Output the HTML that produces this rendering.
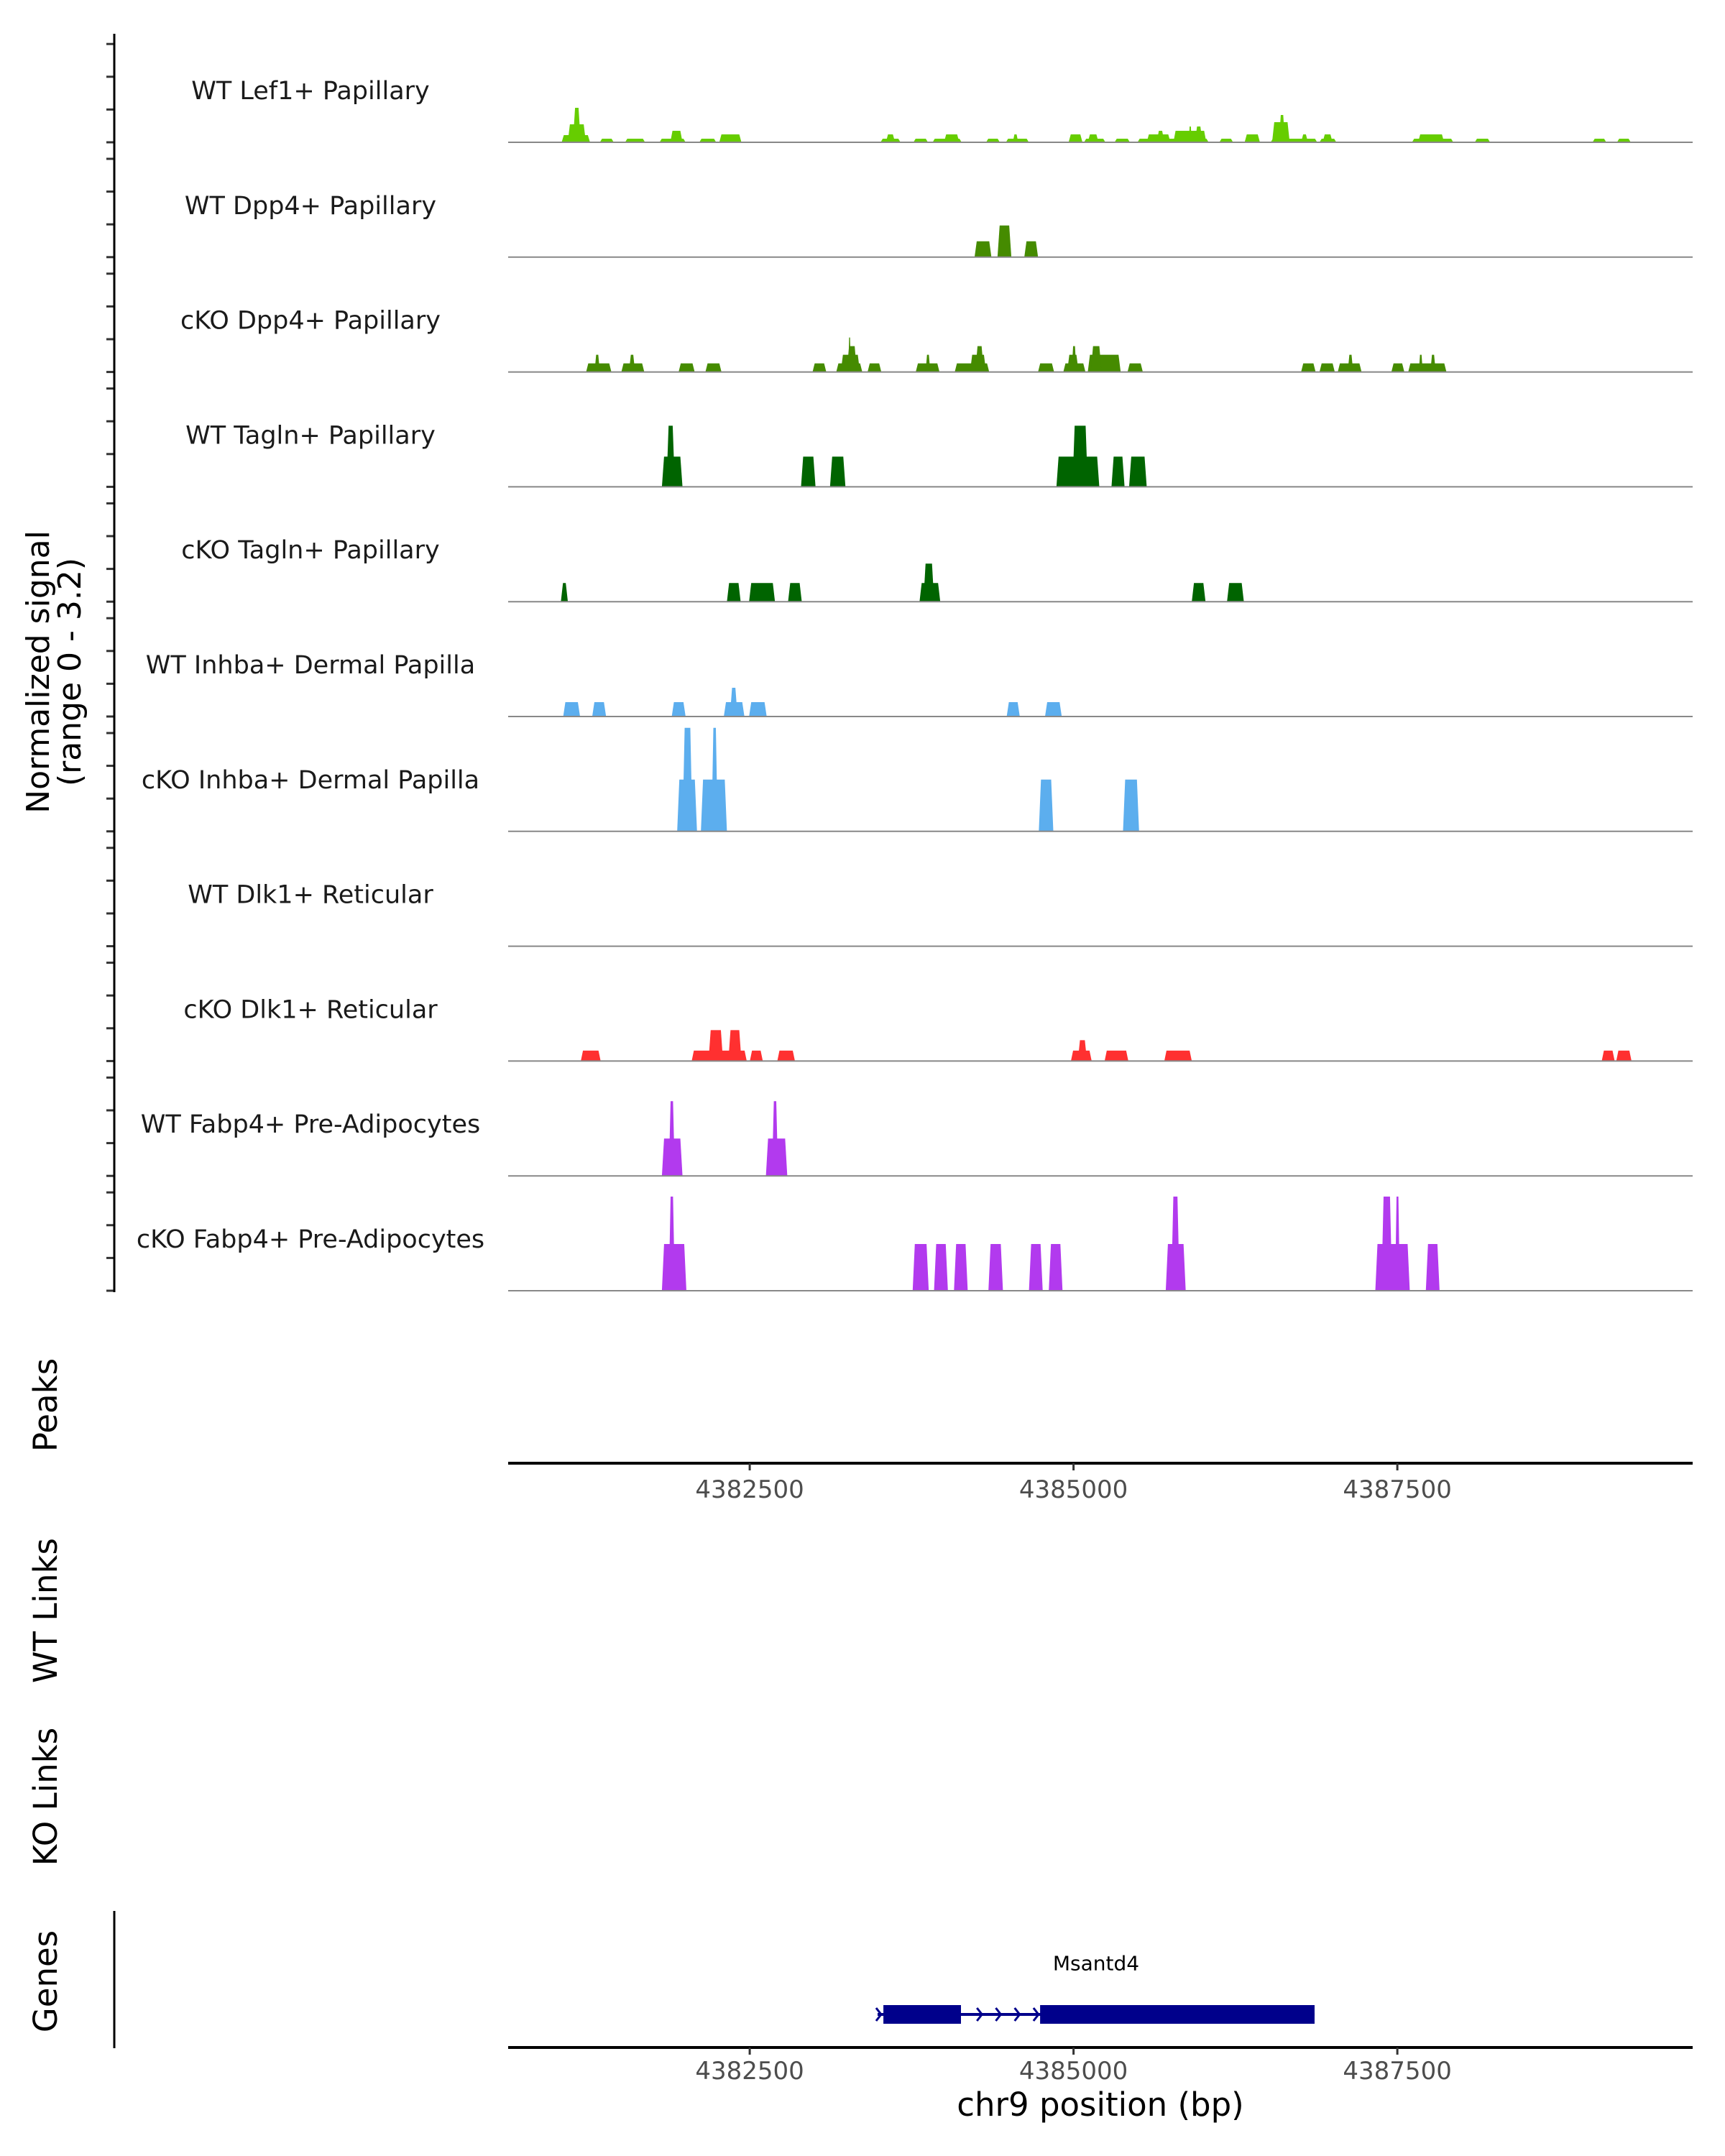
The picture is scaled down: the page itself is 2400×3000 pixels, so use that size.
<!DOCTYPE html>
<html><head><meta charset="utf-8"><style>
html,body{margin:0;padding:0;background:#fff;}
svg{display:block;font-family:"DejaVu Sans","Liberation Sans",sans-serif;}
</style></head><body>
<svg id="chart" width="2400" height="3000" viewBox="0 0 2400 3000" xmlns="http://www.w3.org/2000/svg">
<rect width="2400" height="3000" fill="#fff"/>
<g id="tracks"></g>
<g id="leftaxis"></g>
<text transform="translate(76,935) rotate(-90)" text-anchor="middle" font-size="44" fill="#000"><tspan x="0" dy="-8">Normalized signal</tspan><tspan x="0" dy="44">(range 0 - 3.2)</tspan></text>
<text transform="translate(79,1955) rotate(-90)" text-anchor="middle" font-size="45">Peaks</text>
<text transform="translate(79,2241) rotate(-90)" text-anchor="middle" font-size="45">WT Links</text>
<text transform="translate(79,2500) rotate(-90)" text-anchor="middle" font-size="45">KO Links</text>
<text transform="translate(79,2757) rotate(-90)" text-anchor="middle" font-size="45">Genes</text>
<line x1="159" y1="2659" x2="159" y2="2850" stroke="#000" stroke-width="3"/>
<g id="xaxes"></g>
<g id="genes"></g>
<text x="1531" y="2944" text-anchor="middle" font-size="45">chr9 position (bp)</text>
</svg>
<script>
const REGION_START = 4380635;
const REGION_END = 4389780;
const SIGNAL_MAX = 3.2;
const xTicks = [4382500, 4385000, 4387500];
const trackNames = ["WT Lef1+ Papillary","WT Dpp4+ Papillary","cKO Dpp4+ Papillary","WT Tagln+ Papillary","cKO Tagln+ Papillary","WT Inhba+ Dermal Papilla","cKO Inhba+ Dermal Papilla","WT Dlk1+ Reticular","cKO Dlk1+ Reticular","WT Fabp4+ Pre-Adipocytes","cKO Fabp4+ Pre-Adipocytes"];
const trackColors = ["#66cd00","#458b00","#458b00","#006400","#006400","#5caeee","#5caeee","#ff3030","#ff3030","#b23aee","#b23aee"];
// peaks: [start offset bp from REGION_START, end offset bp, signal]
const wtLef1Peaks = [[413,632,0.2],[460,600,0.5],[500,560,0.96],[708,815,0.1],[903,1057,0.1],[1169,1370,0.1],[1252,1346,0.32],[1476,1606,0.1],[1630,1801,0.22],[2875,3029,0.1],[2916,2987,0.22],[3129,3241,0.1],[3277,3501,0.1],[3365,3483,0.22],[3690,3796,0.1],[3843,4020,0.1],[3896,3938,0.22],[4327,4434,0.22],[4446,4611,0.1],[4475,4558,0.22],[4682,4800,0.1],[4859,5408,0.1],[4930,5113,0.22],[5007,5066,0.32],[5136,5390,0.32],[5254,5278,0.44],[5302,5361,0.44],[5491,5597,0.1],[5686,5804,0.22],[5887,6246,0.1],[5898,6034,0.56],[5951,5998,0.76],[6122,6175,0.22],[6264,6394,0.1],[6288,6365,0.22],[6978,7297,0.1],[7025,7226,0.22],[7463,7581,0.1],[8372,8478,0.1],[8561,8667,0.1]];
const wtDpp4Peaks = [[3601,3731,0.44],[3778,3885,0.88],[3985,4091,0.44]];
const koDpp4Peaks = [[602,797,0.24],[667,708,0.48],[874,1051,0.24],[933,980,0.48],[1316,1440,0.24],[1523,1647,0.24],[2350,2456,0.24],[2533,2734,0.24],[2568,2716,0.48],[2615,2692,0.72],[2627,2645,0.96],[2775,2881,0.24],[3147,3330,0.24],[3223,3259,0.48],[3448,3714,0.24],[3566,3690,0.48],[3607,3672,0.72],[4091,4215,0.24],[4286,4457,0.24],[4316,4404,0.48],[4351,4387,0.72],[4475,4729,0.48],[4499,4581,0.72],[4782,4900,0.24],[6122,6234,0.24],[6264,6382,0.24],[6405,6589,0.24],[6482,6524,0.48],[6819,6919,0.24],[6949,7244,0.24],[7031,7061,0.48],[7120,7161,0.48]];
const wtTaglnPeaks = [[1187,1346,0.84],[1222,1287,1.7],[2261,2373,0.84],[2485,2604,0.84],[4233,4564,0.84],[4357,4475,1.7],[4658,4759,0.84],[4794,4930,0.84]];
const koTaglnPeaks = [[407,461,0.52],[1689,1795,0.52],[1860,2060,0.52],[2161,2267,0.52],[3176,3336,0.52],[3206,3289,1.06],[5278,5384,0.52],[5550,5680,0.52]];
const wtInhbaPeaks = [[425,555,0.4],[649,756,0.4],[1263,1370,0.4],[1665,1824,0.4],[1712,1771,0.8],[1860,1996,0.4],[3849,3950,0.4],[4145,4274,0.4]];
const koInhbaPeaks = [[1305,1458,1.44],[1346,1423,2.88],[1488,1689,1.44],[1570,1618,2.88],[4097,4209,1.44],[4747,4871,1.44]];
const wtDlk1Peaks = [];
const koDlk1Peaks = [[561,714,0.29],[1417,1842,0.29],[1547,1659,0.86],[1700,1801,0.86],[1866,1966,0.29],[2078,2214,0.29],[4345,4505,0.29],[4398,4469,0.58],[4605,4788,0.29],[5066,5278,0.29],[8443,8543,0.29],[8555,8673,0.29]];
const wtFabp4Peaks = [[1187,1346,1.04],[1240,1287,2.08],[1990,2155,1.04],[2037,2084,2.08]];
const koFabp4Peaks = [[1187,1376,1.3],[1240,1287,2.62],[3123,3247,1.3],[3288,3395,1.3],[3442,3548,1.3],[3708,3820,1.3],[4021,4127,1.3],[4174,4280,1.3],[5077,5231,1.3],[5119,5184,2.62],[6695,6961,1.3],[6742,6825,2.62],[6848,6884,2.62],[7085,7191,1.3]];
const trackPeaks = [wtLef1Peaks,wtDpp4Peaks,koDpp4Peaks,wtTaglnPeaks,koTaglnPeaks,wtInhbaPeaks,koInhbaPeaks,wtDlk1Peaks,koDlk1Peaks,wtFabp4Peaks,koFabp4Peaks];
const geneStart = 4383487, geneEnd = 4386861;
const geneExonStarts = [4383532, 4384742];
const geneExonEnds = [4384131, 4386861];
const geneName = "Msantd4";

const NS = "http://www.w3.org/2000/svg";
const X0 = 707, X1 = 2355;
function xScale(bp){ return X0 + (bp - REGION_START) / (REGION_END - REGION_START) * (X1 - X0); }
const TRACK_TOP_BASE = 198, TRACK_STEP = 159.8, TRACK_H = 160;
function yScale(v, i){ return TRACK_TOP_BASE + i*TRACK_STEP - v / SIGNAL_MAX * TRACK_H; }
function mk(tag, attrs, parent){ const e=document.createElementNS(NS,tag); for(const k in attrs) e.setAttribute(k, attrs[k]); parent.appendChild(e); return e; }

const tracksG = document.getElementById('tracks');
const axisG = document.getElementById('leftaxis');
trackNames.forEach((name,i)=>{
  const base = yScale(0,i);
  const g = mk('g',{},tracksG);
  
  
  const lab = mk('text',{x:432,y:base-71,'text-anchor':'middle','dominant-baseline':'central','font-size':35,fill:'#1a1a1a'},g);
  lab.textContent = name;
  
  
  trackPeaks[i].forEach(p=>{
    const xa = xScale(REGION_START + p[0]), xb = xScale(REGION_START + p[1]);
    const w = xb - xa, inset = Math.min(w*0.3, 3);
    const top = yScale(p[2], i);
    const poly = mk('polygon',{points:`${xa},${base} ${xa+inset},${top} ${xb-inset},${top} ${xb},${base}`,fill:trackColors[i]},g);
    
    
  });
  const bl = mk('line',{x1:X0,x2:X1,y1:base,y2:base,stroke:'#888',"stroke-width":2},g);
  
  
  for(let k=0;k<4;k++){
    const ty = base - k*45.6;
    const t = mk('line',{x1:148,x2:159,y1:ty,y2:ty,stroke:'#333',"stroke-width":3},axisG);
    
    
  }
});
const ax = mk('line',{x1:159,x2:159,y1:47,y2:yScale(0,10)+2,stroke:'#000',"stroke-width":3},axisG);



const xg = document.getElementById('xaxes');
[[2036,2073,'peaks-x-axis'],[2849,2882,'genes-x-axis']].forEach(a=>{
  const g = mk('g',{},xg);
  
  
  mk('line',{x1:X0,x2:X1,y1:a[0],y2:a[0],stroke:'#000',"stroke-width":4},g);
  xTicks.forEach(t=>{
    const x = xScale(t);
    mk('line',{x1:x,x2:x,y1:a[0],y2:a[0]+10,stroke:'#333',"stroke-width":3},g);
    const tl = mk('text',{x:x,y:a[1],'text-anchor':'middle','dominant-baseline':'central','font-size':34,fill:'#4d4d4d'},g);
    tl.textContent = t;
    
    
  });
});

const gg = document.getElementById('genes');
const GY = 2803;
const gl = mk('line',{x1:xScale(geneStart),x2:xScale(geneEnd),y1:GY,y2:GY,stroke:'#00008b',"stroke-width":4},gg);


geneExonStarts.forEach((s,i)=>{
  const r = mk('rect',{x:xScale(s),y:GY-13,width:xScale(geneExonEnds[i])-xScale(s),height:26,fill:'#00008b'},gg);
  
  
});
const intronA = xScale(geneExonEnds[0]), intronB = xScale(geneExonStarts[1]);
const chevX = [xScale(geneStart)+2];
for(let k=1;k<=4;k++) chevX.push(intronA + (intronB-intronA)*k/4.2);
chevX.forEach(cx=>{
  const c = mk('polyline',{points:`${cx-4},${GY-9} ${cx+3},${GY} ${cx-4},${GY+9}`,fill:'none',stroke:'#00008b',"stroke-width":3},gg);
  
  
});
const gt = mk('text',{x:(xScale(geneStart)+xScale(geneEnd))/2,y:2732,'text-anchor':'middle','dominant-baseline':'central','font-size':28,fill:'#000'},gg);
gt.textContent = geneName;


</script>
</body></html>
